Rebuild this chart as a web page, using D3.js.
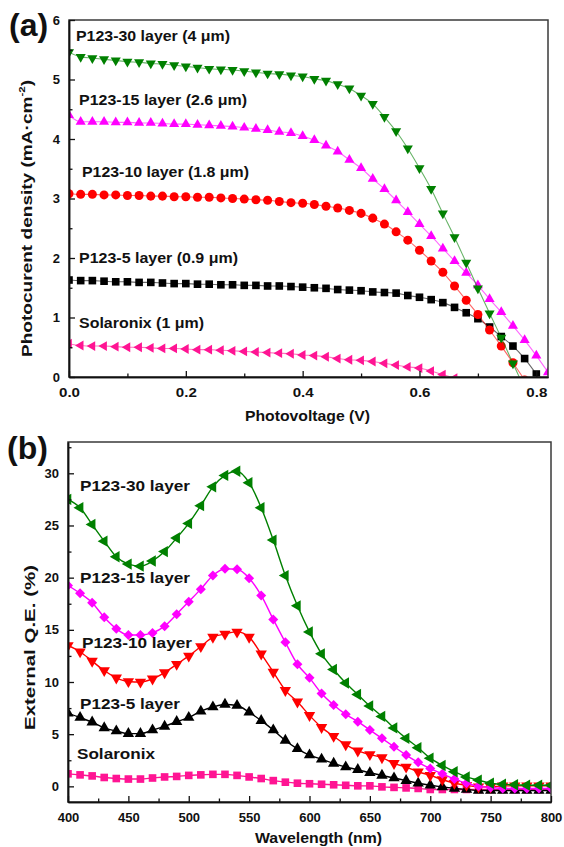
<!DOCTYPE html>
<html>
<head>
<meta charset="utf-8">
<script src="https://cdn.jsdelivr.net/npm/d3@7"></script>
<style>
  body { margin: 0; background: #fff; }
  svg text { font-family: "Liberation Sans", Arial, sans-serif; font-weight: bold; fill: #111; }
</style>
</head>
<body>
<svg id="fig" width="564" height="847"></svg>
<script>
// ---------- (a) J–V curves ----------
const voltage = [0, 0.02, 0.04, 0.06, 0.08, 0.10, 0.12, 0.14, 0.16, 0.18, 0.20, 0.22, 0.24, 0.26, 0.28,
  0.30, 0.32, 0.34, 0.36, 0.38, 0.40, 0.42, 0.44, 0.46, 0.48, 0.50, 0.52, 0.54, 0.56, 0.58, 0.60,
  0.62, 0.64, 0.66, 0.68, 0.70, 0.72, 0.74, 0.76, 0.78, 0.80, 0.82];

const jvP123_30 = [5.46, 5.38, 5.36, 5.34, 5.32, 5.30, 5.29, 5.27, 5.26, 5.24, 5.22, 5.20, 5.18, 5.17, 5.16,
  5.14, 5.12, 5.10, 5.09, 5.07, 5.05, 5.01, 4.98, 4.92, 4.85, 4.73, 4.59, 4.37, 4.13, 3.84, 3.51,
  3.16, 2.75, 2.35, 1.92, 1.49, 1.07, 0.66, 0.23, -0.2];
const jvP123_15 = [4.40, 4.29, 4.29, 4.29, 4.28, 4.28, 4.27, 4.27, 4.26, 4.25, 4.25, 4.24, 4.23, 4.22, 4.21,
  4.19, 4.17, 4.15, 4.12, 4.10, 4.05, 3.98, 3.89, 3.79, 3.65, 3.51, 3.33, 3.16, 2.97, 2.77, 2.57,
  2.37, 2.16, 1.95, 1.75, 1.54, 1.31, 1.09, 0.86, 0.62, 0.36, 0.08];
const jvP123_10 = [3.08, 3.07, 3.07, 3.06, 3.06, 3.05, 3.05, 3.04, 3.04, 3.03, 3.03, 3.02, 3.02, 3.01, 3.00,
  2.99, 2.98, 2.97, 2.95, 2.93, 2.92, 2.90, 2.87, 2.84, 2.80, 2.75, 2.67, 2.57, 2.44, 2.30, 2.13,
  1.95, 1.76, 1.53, 1.29, 1.05, 0.79, 0.52, 0.24, -0.05];
const jvP123_5 = [1.63, 1.62, 1.62, 1.61, 1.60, 1.60, 1.59, 1.59, 1.58, 1.57, 1.57, 1.56, 1.56, 1.55, 1.55,
  1.54, 1.54, 1.53, 1.53, 1.52, 1.51, 1.50, 1.49, 1.47, 1.46, 1.45, 1.43, 1.42, 1.41, 1.37, 1.34,
  1.30, 1.25, 1.17, 1.08, 0.98, 0.84, 0.68, 0.52, 0.31, 0.05];
const jvSolaronix = [0.56, 0.53, 0.52, 0.52, 0.51, 0.50, 0.50, 0.49, 0.48, 0.48, 0.47, 0.46, 0.46, 0.45, 0.44,
  0.43, 0.42, 0.41, 0.40, 0.39, 0.37, 0.36, 0.34, 0.31, 0.29, 0.28, 0.26, 0.23, 0.20, 0.17, 0.15,
  0.10, 0.04, -0.02];

const jvLabels = ["P123-30 layer (4 \u03bcm)", "P123-15 layer (2.6 \u03bcm)", "P123-10 layer (1.8 \u03bcm)",
  "P123-5 layer (0.9 \u03bcm)", "Solaronix (1 \u03bcm)"];
const voltTicks = [0, 0.2, 0.4, 0.6, 0.8];
const voltMinor = [0.1, 0.3, 0.5, 0.7];
const jTicks = [0, 1, 2, 3, 4, 5, 6];
const jMinor = [0.5, 1.5, 2.5, 3.5, 4.5, 5.5];

// ---------- (b) IPCE spectra ----------
const wavelength = [400, 410, 420, 430, 440, 450, 460, 470, 480, 490, 500, 510, 520, 530, 540, 550, 560,
  570, 580, 590, 600, 610, 620, 630, 640, 650, 660, 670, 680, 690, 700, 710, 720, 730, 740, 750,
  760, 770, 780, 790, 800];

const qeP123_30 = [27.5, 26.7, 25.1, 23.5, 22.0, 21.3, 21.1, 21.6, 22.5, 23.8, 25.2, 26.9, 28.7, 29.8, 30.2,
  29.1, 26.7, 23.6, 20.2, 17.3, 14.8, 12.7, 11.2, 9.9, 8.8, 7.7, 6.7, 5.6, 4.6, 3.7, 2.7, 2.0, 1.4,
  0.9, 0.6, 0.3, 0.2, 0.15, 0.1, 0.1, 0.1];
const qeP123_15 = [19.25, 18.5, 17.6, 16.2, 15.1, 14.5, 14.5, 14.7, 15.35, 16.5, 17.7, 18.9, 20.2, 20.85, 20.8,
  19.95, 18.3, 16.0, 13.8, 11.7, 10.4, 8.9, 7.8, 6.9, 6.2, 5.4, 4.6, 3.8, 3.0, 2.3, 1.7, 1.2, 0.7,
  0.3, 0.0, -0.1, -0.2, -0.2, -0.2, -0.2, -0.2];
const qeP123_10 = [13.5, 12.9, 12.0, 11.1, 10.4, 10.05, 10.0, 10.3, 10.9, 11.7, 12.5, 13.4, 14.3, 14.6, 14.8,
  14.3, 12.7, 10.95, 9.2, 8.1, 6.8, 5.65, 4.8, 4.0, 3.4, 3.05, 2.75, 2.2, 1.85, 1.4, 1.05, 0.65, 0.3,
  0.1, -0.05, -0.05, 0.05, 0.05, 0.05, 0.05, 0.05];
const qeP123_5 = [7.0, 6.6, 6.15, 5.6, 5.3, 5.05, 5.05, 5.4, 5.75, 6.2, 6.6, 7.2, 7.6, 7.85, 7.75,
  7.1, 6.3, 5.4, 4.4, 3.6, 3.0, 2.6, 2.2, 1.85, 1.6, 1.3, 1.05, 0.8, 0.55, 0.3, 0.1, -0.05, -0.2,
  -0.3, -0.4, -0.4, -0.4, -0.4, -0.4, -0.4, -0.4];
const qeSolaronix = [1.2, 1.1, 1.0, 0.85, 0.75, 0.7, 0.7, 0.8, 0.9, 0.95, 1.05, 1.1, 1.15, 1.15, 1.05,
  0.9, 0.75, 0.55, 0.4, 0.3, 0.25, 0.2, 0.15, 0.1, 0.05, 0.05, -0.05, -0.1, -0.15, -0.2, -0.3, -0.3,
  -0.3, -0.3, -0.3, -0.3, -0.3, -0.3, -0.3, -0.3, -0.3];

const qeLabels = ["P123-30 layer", "P123-15 layer", "P123-10 layer", "P123-5 layer", "Solaronix"];
const wlTicks = [400, 450, 500, 550, 600, 650, 700, 750, 800];
const wlMinor = [425, 475, 525, 575, 625, 675, 725, 775];
const qeTicks = [0, 5, 10, 15, 20, 25, 30];
const qeMinor = [2.5, 7.5, 12.5, 17.5, 22.5, 27.5, 32.5];

// ---------- drawing ----------
const svg = d3.select("#fig");
const defs = svg.append("defs");

const GREEN = "#008000", MAGENTA = "#ff00ff", RED = "#ff0000", BLACK = "#000000", PINK = "#ff1493";

function panel(id, x, y, opts) {
  const [x0, x1] = x.range();
  const [y0, y1] = y.range(); // y0 = bottom
  defs.append("clipPath").attr("id", "clip-" + id)
    .append("rect").attr("x", x0).attr("y", y1).attr("width", x1 - x0).attr("height", y0 - y1);

  const g = svg.append("g");

  // series: connecting line + markers
  const plot = g.append("g").attr("clip-path", `url(#clip-${id})`);
  opts.series.forEach(s => {
    const pts = s.values.map((v, i) => [opts.xs[i], v]);
    plot.append("path")
      .attr("d", d3.line().x(d => x(d[0])).y(d => y(d[1])).curve(d3.curveMonotoneX)(pts))
      .attr("fill", "none").attr("stroke", s.color)
      .attr("stroke-width", opts.lineWidth).attr("stroke-opacity", opts.lineOpacity);
    const shape = d3.symbol().type(s.symbol).size(s.size)();
    plot.selectAll(null).data(pts).join("path")
      .attr("d", shape)
      .attr("transform", d => `translate(${x(d[0])},${y(d[1])}) rotate(${s.rotate || 0})`)
      .attr("fill", s.color);
  });

  // frame
  g.append("rect").attr("x", x0).attr("y", y1).attr("width", x1 - x0).attr("height", y0 - y1)
    .attr("fill", "none").attr("stroke", "#3a3a3a").attr("stroke-width", 1.5);

  // axes (inward ticks)
  const xAxis = g.append("g").attr("transform", `translate(0,${y0})`)
    .call(d3.axisBottom(x).tickValues(opts.xTicks).tickFormat(opts.xFormat)
      .tickSizeInner(-6).tickSizeOuter(0).tickPadding(opts.xPad));
  g.append("g").attr("transform", `translate(0,${y0})`)
    .call(d3.axisBottom(x).tickValues(opts.xMinor).tickFormat("").tickSizeInner(-3.5).tickSizeOuter(0));
  const yAxis = g.append("g").attr("transform", `translate(${x0},0)`)
    .call(d3.axisLeft(y).tickValues(opts.yTicks).tickFormat(opts.yFormat)
      .tickSizeInner(-6).tickSizeOuter(0).tickPadding(9));
  g.append("g").attr("transform", `translate(${x0},0)`)
    .call(d3.axisLeft(y).tickValues(opts.yMinor).tickFormat("").tickSizeInner(-3.5).tickSizeOuter(0));

  g.selectAll(".domain").attr("stroke", "#111").attr("stroke-width", 1.5);
  g.selectAll(".tick line").attr("stroke", "#111").attr("stroke-width", 1.3);
  g.selectAll(".tick text").attr("font-size", 13).attr("fill", "#111")
    .attr("font-family", '"Liberation Sans", Arial, sans-serif').attr("font-weight", "bold");
  return { g, xAxis, yAxis };
}

function label(text, x, y, size, width, anchor) {
  const t = svg.append("text").attr("x", x).attr("y", y).attr("font-size", size)
    .attr("text-anchor", anchor || "start").text(text);
  if (width) t.attr("textLength", width).attr("lengthAdjust", "spacingAndGlyphs");
  return t;
}

// ----- panel (a) -----
const xa = d3.scaleLinear().domain([0, 0.82]).range([69, 548]);
const ya = d3.scaleLinear().domain([0, 6]).range([377, 20]);
const pa = panel("a", xa, ya, {
  xs: voltage,
  lineWidth: 1.1, lineOpacity: 0.6,
  series: [
    { values: jvSolaronix, color: PINK, symbol: d3.symbolTriangle, size: 42, rotate: -90 },
    { values: jvP123_5, color: BLACK, symbol: d3.symbolSquare, size: 58 },
    { values: jvP123_10, color: RED, symbol: d3.symbolCircle, size: 64 },
    { values: jvP123_15, color: MAGENTA, symbol: d3.symbolTriangle, size: 44 },
    { values: jvP123_30, color: GREEN, symbol: d3.symbolTriangle, size: 44, rotate: 180 }
  ],
  xTicks: voltTicks, xMinor: voltMinor, xFormat: d3.format(".1f"), xPad: 11,
  yTicks: jTicks, yMinor: jMinor, yFormat: d3.format("d")
});
pa.xAxis.selectAll(".tick text").attr("textLength", 21).attr("lengthAdjust", "spacingAndGlyphs");

const jvLabelPos = [[76, 41, 154], [79, 105, 168], [82, 176.5, 167], [79, 263, 159], [79, 328, 125]];
jvLabels.forEach((t, i) => label(t, jvLabelPos[i][0], jvLabelPos[i][1], 14, jvLabelPos[i][2]));

label("Photovoltage (V)", 307.5, 421, 14, 125, "middle");
{
  const t = svg.append("text").attr("font-size", 15).attr("text-anchor", "middle")
    .attr("transform", "translate(32,218.5) rotate(-90)")
    .attr("textLength", 277).attr("lengthAdjust", "spacingAndGlyphs");
  t.append("tspan").text("Photocurent density (mA\u00b7cm");
  t.append("tspan").attr("font-size", 9).attr("dy", -7).text("-2");
  t.append("tspan").attr("dy", 7).text(")");
}
label("(a)", 9, 36, 32);

// ----- panel (b) -----
const xb = d3.scaleLinear().domain([400, 800]).range([68, 551]);
const yb = d3.scaleLinear().domain([-1.5, 33]).range([802, 442]);
panel("b", xb, yb, {
  xs: wavelength,
  lineWidth: 1.4, lineOpacity: 1,
  series: [
    { values: qeSolaronix, color: PINK, symbol: d3.symbolSquare, size: 58 },
    { values: qeP123_5, color: BLACK, symbol: d3.symbolTriangle, size: 56 },
    { values: qeP123_10, color: RED, symbol: d3.symbolTriangle, size: 56, rotate: 180 },
    { values: qeP123_15, color: MAGENTA, symbol: d3.symbolSquare, size: 50, rotate: 45 },
    { values: qeP123_30, color: GREEN, symbol: d3.symbolTriangle, size: 56, rotate: -90 }
  ],
  xTicks: wlTicks, xMinor: wlMinor, xFormat: d3.format("d"), xPad: 11,
  yTicks: qeTicks, yMinor: qeMinor, yFormat: d3.format("d")
});

const qeLabelPos = [[80, 491, 110], [80, 583, 110], [82, 648, 110], [80, 709, 100], [77, 759, 78]];
qeLabels.forEach((t, i) => label(t, qeLabelPos[i][0], qeLabelPos[i][1], 15, qeLabelPos[i][2]));

label("Wavelength (nm)", 318.5, 843, 14, 127, "middle");
svg.append("text").attr("font-size", 15).attr("text-anchor", "middle")
  .attr("transform", "translate(35,647.5) rotate(-90)")
  .attr("textLength", 165).attr("lengthAdjust", "spacingAndGlyphs")
  .text("External Q.E. (%)");
label("(b)", 7, 459, 32);
</script>
</body>
</html>
